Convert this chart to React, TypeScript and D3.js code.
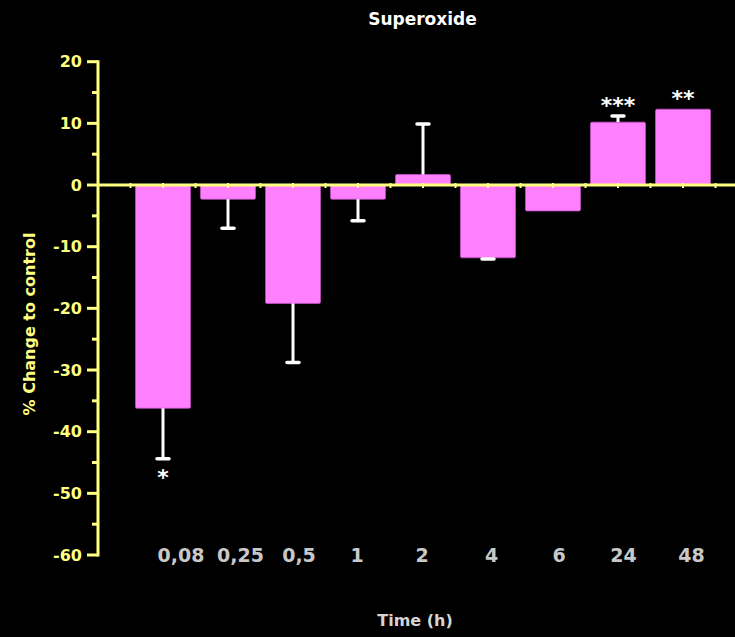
import React from "react";
import * as d3 from "d3";

const categories = ["0,08", "0,25", "0,5", "1", "2", "4", "6", "24", "48"];
const values = [-36.2, -2.3, -19.2, -2.3, 1.7, -11.8, -4.2, 10.2, 12.3];
const errorEnds = [-44.4, -7.0, -28.8, -5.8, 9.9, -12.0, null, 11.2, null];
const significance = ["*", "", "", "", "", "", "", "***", "**"];
const yMajorTicks = [20, 10, 0, -10, -20, -30, -40, -50, -60];

// layout: x-label offsets relative to bar centres (labels were typed as a spaced text row)
const labelShift = [18, 12.5, 6, -1, -1, 3.5, 6, 5.5, 8.5];

const W = 735;
const H = 637;
const YELLOW = "#ffff80";
const PINK = "#ff80ff";
const FONT = "'DejaVu Sans', sans-serif";

export default function App() {
  const y = d3.scaleLinear().domain([-60, 20]).range([555, 61.7]);
  const x = d3.scaleBand<string>().domain(categories).range([130.5, 715.5]).paddingInner(0.154).paddingOuter(0.077);
  const axisX = 98;
  const minorTicks = d3.range(-55, 20, 10);
  const zeroTickXs: number[] = [];
  const step = x.step();
  categories.forEach((c) => {
    const cx = (x(c) as number) + x.bandwidth() / 2;
    zeroTickXs.push(cx);
    zeroTickXs.push(cx - step / 2);
  });
  zeroTickXs.push(715.5);

  return (
    <svg width={W} height={H} style={{ position: "absolute", left: 0, top: 0, background: "#000" }}>
      <rect x={0} y={0} width={W} height={H} fill="#000" />
      <text x={422.5} y={25} fill="#fff" fontFamily={FONT} fontWeight="bold" fontSize={17} textAnchor="middle">Superoxide</text>

      {categories.map((c, i) => {
        const v = values[i];
        const x0 = x(c) as number;
        const top = Math.min(y(v), y(0));
        const h = Math.abs(y(v) - y(0));
        return (
          <rect key={c} x={x0} y={top} width={x.bandwidth()} height={h} fill={PINK} stroke="#c050c0" strokeWidth={0.8} rx={1.5} />
        );
      })}

      {categories.map((c, i) => {
        const e = errorEnds[i];
        if (e === null) return null;
        const cx = (x(c) as number) + x.bandwidth() / 2;
        const y1 = y(values[i]);
        const y2 = y(e);
        return (
          <g key={"e" + c}>
            <line x1={cx} x2={cx} y1={y1} y2={y2} stroke="#fff" strokeWidth={3} />
            <line x1={cx - 6} x2={cx + 6} y1={y2} y2={y2} stroke="#fff" strokeWidth={3.5} strokeLinecap="round" />
          </g>
        );
      })}

      <line x1={axisX} x2={W} y1={y(0)} y2={y(0)} stroke={YELLOW} strokeWidth={3} />
      {zeroTickXs.map((tx, i) => (
        <line key={"zt" + i} x1={tx} x2={tx} y1={y(0) - 2} y2={y(0) + 3} stroke={YELLOW} strokeWidth={2} />
      ))}

      <line x1={axisX} x2={axisX} y1={y(20) - 1.5} y2={y(-60) + 1.5} stroke={YELLOW} strokeWidth={3} />
      {yMajorTicks.map((t) => (
        <g key={"t" + t}>
          <line x1={axisX - 11} x2={axisX} y1={y(t)} y2={y(t)} stroke={YELLOW} strokeWidth={3} />
          <text x={82} y={y(t)} dy="0.36em" fill={YELLOW} fontFamily={FONT} fontWeight="bold" fontSize={16} textAnchor="end">{t}</text>
        </g>
      ))}
      {minorTicks.map((t) => (
        <line key={"m" + t} x1={axisX - 6} x2={axisX} y1={y(t)} y2={y(t)} stroke={YELLOW} strokeWidth={3} />
      ))}

      {categories.map((c, i) => {
        const s = significance[i];
        if (!s) return null;
        const cx = (x(c) as number) + x.bandwidth() / 2;
        const v = values[i];
        const e = errorEnds[i];
        let ty: number;
        if (v < 0) ty = y(e !== null ? e : v) + 26;
        else ty = y(e !== null ? e : v) - 3;
        return (
          <text key={"s" + c} x={cx} y={ty} fill="#fff" fontFamily={FONT} fontWeight="bold" fontSize={22} textAnchor="middle">{s}</text>
        );
      })}

      {categories.map((c, i) => (
        <text key={"xl" + c} x={(x(c) as number) + x.bandwidth() / 2 + labelShift[i]} y={555} dy="0.36em" fill="#c8c8c8" fontFamily={FONT} fontWeight="bold" fontSize={19} textAnchor="middle">{c}</text>
      ))}

      <text x={415} y={620} dy="0.36em" fill="#d4d4d4" fontFamily={FONT} fontWeight="bold" fontSize={16} textAnchor="middle">Time (h)</text>

      <text transform={`translate(29,324) rotate(-90)`} dy="0.36em" fill={YELLOW} fontFamily={FONT} fontWeight="bold" fontSize={16} textAnchor="middle">% Change to control</text>
    </svg>
  );
}
